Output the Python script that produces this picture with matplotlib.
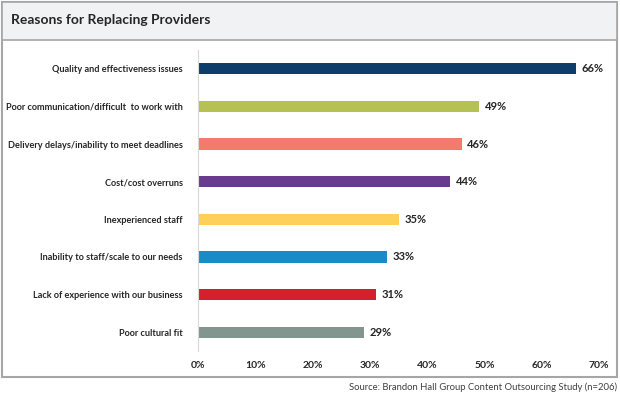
import matplotlib.pyplot as plt
from matplotlib.patches import Rectangle

# Data
categories = ['Quality and effectiveness issues',
              'Poor communication/difficult  to work with',
              'Delivery delays/inability to meet deadlines',
              'Cost/cost overruns',
              'Inexperienced staff',
              'Inability to staff/scale to our needs',
              'Lack of experience with our business',
              'Poor cultural fit']
values = [66, 49, 46, 44, 35, 33, 31, 29]
colors = ['#0d3d6b', '#b5c152', '#f47a6e', '#6a3a8f',
          '#fdd05a', '#1b8ac9', '#d4202a', '#82968f']
ticks = [0, 10, 20, 30, 40, 50, 60, 70]

plt.rcParams['font.family'] = ['Lato', 'DejaVu Sans']

fig = plt.figure(figsize=(6.2, 3.99), dpi=100)
W, H = 620, 399

# outer frame and title band
fig.patches.append(Rectangle((2 / W, 1 - 377 / H), 615 / W, 375 / H, transform=fig.transFigure,
                             facecolor='white', edgecolor='#a6a6a6', linewidth=1.5, zorder=0))
fig.patches.append(Rectangle((2 / W, 1 - 40 / H), 615 / W, 38 / H, transform=fig.transFigure,
                             facecolor='#f1f2f4', edgecolor='#a6a6a6', linewidth=1.2, zorder=0))
fig.text(11 / W, 1 - 20 / H, 'Reasons for Replacing Providers', fontsize=10, fontweight='bold',
         color='#262626', va='center', ha='left')
fig.text(617 / W, 1 - 387 / H, 'Source: Brandon Hall Group Content Outsourcing Study (n=206)',
         fontsize=6.8, color='#404040', va='center', ha='right')

ax = fig.add_axes([198 / W, 1 - 351 / H, 401 / W, 301 / H])
ax.set_zorder(2)
y = list(range(len(categories)))
bars = ax.barh(y, values, height=0.3, color=colors)
for yi, v in zip(y, values):
    ax.text(v + 1.0, yi, f'{v}%', va='center', ha='left', fontsize=8, fontweight='bold', color='#262626')

ax.set_ylim(len(categories) - 0.5, -0.5)
ax.set_xlim(0, 70)
ax.set_yticks(y)
ax.set_yticklabels(categories, fontsize=6.6, fontweight='bold', color='#262626')
ax.set_xticks(ticks)
ax.set_xticklabels([f'{t}%' for t in ticks], fontsize=7.5, fontweight='bold', color='#262626')
ax.tick_params(axis='x', length=0, pad=7)
ax.tick_params(axis='y', length=0, pad=11)
for s in ['top', 'right', 'bottom']:
    ax.spines[s].set_visible(False)
ax.spines['left'].set_color('#d9d9d9')
ax.set_facecolor('none')

fig.savefig('out.png', dpi=100)
